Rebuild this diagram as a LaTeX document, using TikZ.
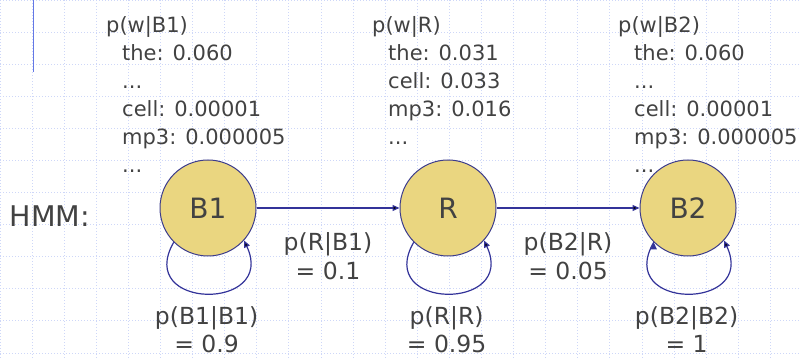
\documentclass[tikz,border=0pt]{standalone}
\usepackage{fontspec}
\setmainfont{DejaVu Sans}
\usetikzlibrary{arrows.meta}

\definecolor{textgray}{RGB}{66,66,66}
\definecolor{khaki}{RGB}{234,214,128}
\definecolor{rimblue}{RGB}{60,60,140}
\definecolor{arrowblue}{RGB}{51,51,153}
\definecolor{gridblue}{RGB}{206,215,248}
\definecolor{barblue}{RGB}{100,120,230}

\begin{document}
\begin{tikzpicture}[->, >={Triangle[length=7pt,width=6pt]}, auto, x=1pt, y=1pt, node distance=240pt]
\tikzstyle{hmmstate}=[circle, draw=rimblue, fill=khaki, line width=1pt, minimum size=96pt, inner sep=0pt, text=textgray, font=\fontsize{28}{32}\selectfont]
\tikzstyle{emit}=[anchor=north west, inner sep=0pt, align=left, text=textgray, font=\fontsize{21}{28}\selectfont]
\tikzstyle{trans}=[align=center, inner sep=0pt, text=textgray, font=\fontsize{23.5}{28.5}\selectfont]
\tikzstyle{gridline}=[-, draw=gridblue, line width=1pt, dash pattern=on 1pt off 2pt]

\useasboundingbox (0,0) rectangle (799,358);
\draw[gridline, shift={(0,358)}, step=32.1] (0,-358) grid (799,0);
\draw[-, barblue, line width=1pt] (33,358) -- (33,286);

\node[hmmstate]    (B1) at (208,150) {B1};
\node[hmmstate]    (R)[right of=B1]  {R};
\node[hmmstate]    (B2)[right of=R]  {B2};
\node[anchor=base west, inner sep=0pt, text=textgray, font=\fontsize{28.5}{32}\selectfont] (hmm) at (9.5,131) {HMM:};

\node[emit] (wB1) at (106,342) {p(w|B1)\\\hspace*{16pt}the: 0.060\\\hspace*{16pt}...\\\hspace*{16pt}cell: 0.00001\\\hspace*{16pt}mp3: 0.000005\\\hspace*{16pt}...};
\node[emit] (wR)  at (372,342) {p(w|R)\\\hspace*{16pt}the: 0.031\\\hspace*{16pt}cell: 0.033\\\hspace*{16pt}mp3: 0.016\\\hspace*{16pt}...};
\node[emit] (wB2) at (618,342) {p(w|B2)\\\hspace*{16pt}the: 0.060\\\hspace*{16pt}...\\\hspace*{16pt}cell: 0.00001\\\hspace*{16pt}mp3: 0.000005\\\hspace*{16pt}...};

\path[draw=arrowblue, line width=1.2pt]
(B1) edge     node[trans, below=24pt]{p(R|B1)\\= 0.1}     (R)
(R)  edge     node[trans, below=24pt]{p(B2|R)\\= 0.05}    (B2)

(B1.-135) edge[out=-120, in=-65, looseness=2.85]  node[trans, below=12pt]{p(B1|B1)\\= 0.9}   (B1.-42)
(R.-135)  edge[out=-120, in=-65, looseness=2.85]  node[trans, below=12pt]{p(R|R)\\= 0.95}    (R.-42)
(B2.-135) edge[out=-120, in=-65, looseness=2.85]  node[trans, below=12pt]{p(B2|B2)\\= 1}     (B2.-42);

\end{tikzpicture}
\end{document}
